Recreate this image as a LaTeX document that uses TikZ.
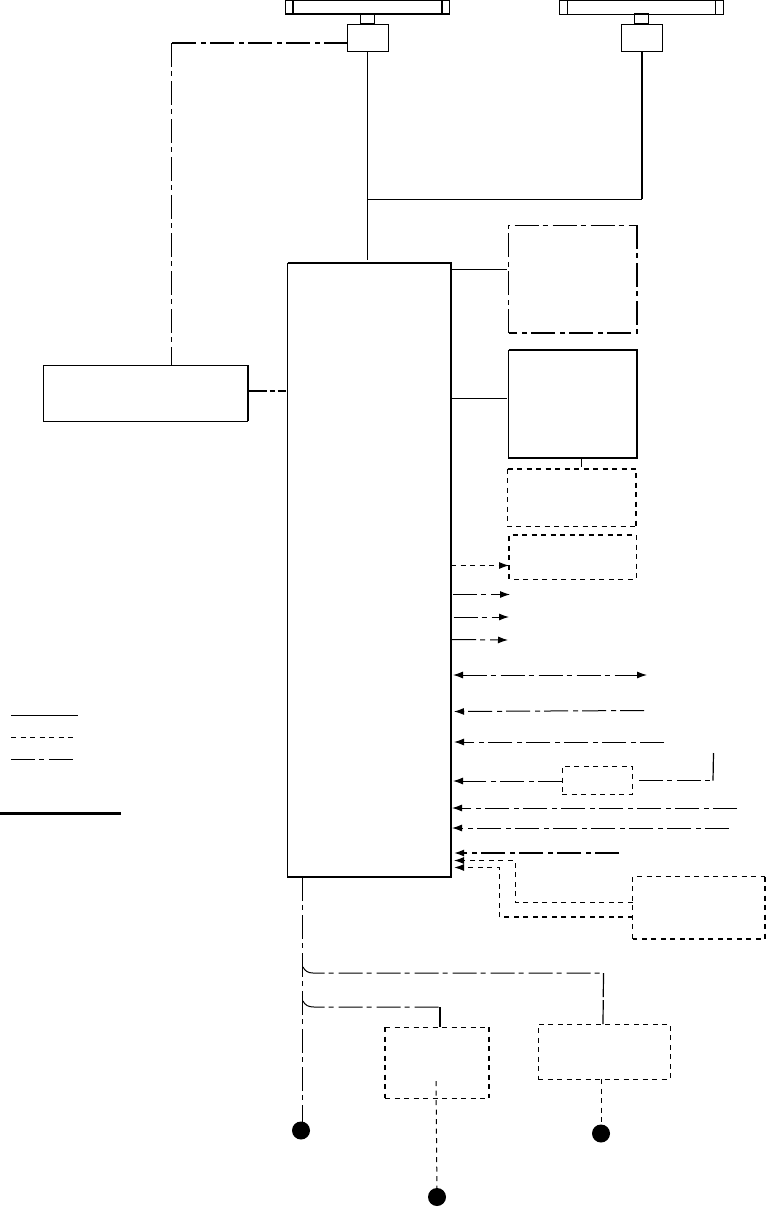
\documentclass[tikz,border=0pt]{standalone}
\usepackage{amsmath}
\usetikzlibrary{arrows.meta}

\tikzset{
    solidbox/.style={draw, line width=1pt, inner sep=0pt, outer sep=0pt, anchor=north west},
    dashbox/.style={draw, line width=1pt, dash pattern=on 5pt off 4.5pt, inner sep=0pt, outer sep=0pt, anchor=north west},
    openbox/.style={inner sep=0pt, outer sep=0pt, anchor=north west},
    dashline/.style={line width=1pt, dash pattern=on 5pt off 4.5pt},
    chainline/.style={line width=1pt, dash pattern=on 24pt off 4pt on 5pt off 5pt},
    heavy/.style={line width=2pt},
    tip/.style={-{Latex[length=10pt,width=7pt]}},
    blackdot/.style={circle, fill=black, inner sep=0pt, minimum size=18pt},
}

\begin{document}
\begin{tikzpicture}[x=1pt, y=-1pt]
    \useasboundingbox (0, 0) rectangle (766, 1207);

    % two aerials on top
    \node[solidbox, minimum width=164pt, minimum height=14pt] (barA) at (285.5, 0.5) {};
    \node[solidbox, minimum width=164pt, minimum height=14pt] (barB) at (559.5, 0.5) {};
    \draw[line width=1.5pt] (293, 0.5) -- (293, 14);
    \draw[line width=1.5pt] (442, 0.5) -- (442, 14);
    \draw[heavy] (barA.south west) -- (barA.south east);
    \draw (567.5, 0.5) -- (567.5, 14);
    \draw (715.5, 0.5) -- (715.5, 14);
    \node[solidbox, minimum width=14pt, minimum height=10pt] (stubA) at (360.5, 14) {};
    \node[solidbox, minimum width=14pt, minimum height=10pt] (stubB) at (634.5, 14) {};
    \node[solidbox, minimum width=41pt, minimum height=27pt] (unitA) at (347.5, 24.5) {};
    \node[solidbox, minimum width=41pt, minimum height=27pt] (unitB) at (621.5, 24.5) {};

    % main blocks
    \node[solidbox, minimum width=163.5pt, minimum height=614pt] (main) at (287.5, 263) {};
    \node[solidbox, minimum width=204pt, minimum height=56pt] (leftbox) at (43.5, 365) {};
    \node[openbox, minimum width=128.5pt, minimum height=108pt] (boxA) at (508.5, 225) {};
    \node[solidbox, minimum width=128.5pt, minimum height=108pt] (boxB) at (508.5, 350) {};
    \node[openbox, minimum width=128.5pt, minimum height=58pt] (boxC) at (507.5, 468.5) {};
    \node[openbox, minimum width=127pt, minimum height=44pt] (boxD) at (509, 535) {};
    \node[dashbox, minimum width=70.5pt, minimum height=28pt] (boxE) at (562, 766) {};
    \node[openbox, minimum width=132.5pt, minimum height=62pt] (boxF) at (632.5, 876.5) {};
    \node[openbox, minimum width=104pt, minimum height=71pt] (boxG) at (385, 1027) {};
    \node[dashbox, minimum width=132pt, minimum height=55pt] (boxH) at (538, 1024) {};

    % sides of the blocks, thin and heavy
    \draw[heavy] (main.north west) -- (main.north east) -- (main.south east) -- (main.south west);
    \draw[heavy] (leftbox.north east) -- (leftbox.south east);
    \draw[heavy] (boxB.north west) -- (boxB.north east) -- (boxB.south east) -- (boxB.south west);
    \draw[chainline] (boxA.south west) -- (boxA.north west) -- (boxA.north east);
    \draw[chainline, heavy] (boxA.north east) -- (boxA.south east) -- (boxA.south west);
    \draw[dashline] (boxC.north west) -- (boxC.south west) -- (boxC.south east);
    \draw[dashline, heavy] (boxC.north west) -- (boxC.north east) -- (boxC.south east);
    \draw[dashline] (boxD.north east) -- (boxD.south east) -- (boxD.south west);
    \draw[dashline, heavy] (boxD.south west) -- (boxD.north west) -- (boxD.north east);
    \draw[dashline] (boxF.south west) -- (boxF.north west) -- (boxF.north east);
    \draw[dashline, heavy] (boxF.north east) -- (boxF.south east) -- (boxF.south west);
    \draw[dashline] (boxG.north west) -- (boxG.north east);
    \draw[dashline] (boxG.south west) -- (boxG.south east);
    \draw[dashline, heavy] (boxG.north west) -- (boxG.south west);
    \draw[dashline, heavy] (boxG.north east) -- (boxG.south east);

    % end dots
    \node[blackdot] (dotA) at (301, 1130.5) {};
    \node[blackdot] (dotB) at (601, 1133.5) {};
    \node[blackdot] (dotC) at (437, 1197) {};

    % free ends
    \coordinate (joint) at (367.5, 199);
    \coordinate (in1) at (510, 594.5);
    \coordinate (in2) at (509, 617);
    \coordinate (in3) at (508, 640);
    \coordinate (out1) at (453, 594.5);
    \coordinate (out2) at (453.5, 617);
    \coordinate (out3) at (452, 639.5);
    \coordinate (both1) at (453, 675);
    \coordinate (both2) at (647, 675);
    \coordinate (far1) at (644, 710.5);
    \coordinate (far2) at (664, 742);
    \coordinate (far3) at (713.5, 753);
    \coordinate (far4) at (737, 808);
    \coordinate (far5) at (729, 828);
    \coordinate (far6) at (619, 853);

    % upper connectors
    \draw[chainline, line width=1.6pt] (unitA.west |- 0, 43) -- (172, 43);
    \draw[chainline] (171.5, 43) -- (171.5, 365);
    \draw (joint |- unitA.south) -- (367.5, 260);
    \draw (joint) -- (642, 199);
    \draw[line width=1.5pt] (642, 199) -- (unitB.south);
    \draw[line width=1.6pt, dash pattern=on 19pt off 3pt on 5pt off 3pt] (leftbox.east |- 0, 391) -- (286, 391);
    \draw (main.east |- 0, 269) -- (507, 269);
    \draw (main.east |- 0, 398) -- (507, 398);
    \draw (581, 458) -- (581, 467);

    % right hand arrows
    \draw[dashline, tip] (main.east |- 0, 565.5) -- (boxD.west |- 0, 565.5);
    \draw[chainline, tip] (out1) -- (in1);
    \draw[chainline, tip] (out2) -- (in2);
    \draw[chainline, tip] (out3) -- (in3);
    \draw[chainline, {Latex[length=10pt,width=7pt]}-{Latex[length=10pt,width=7pt]}] (both1) -- (both2);
    \draw[chainline, tip] (far1) -- (454, 711.5);
    \draw[chainline, tip] (far2) -- (454, 742);
    \draw[chainline, tip] (boxE.west |- 0, 781) -- (453, 781);
    \draw[chainline] (639, 780.5) -- (713, 780.5);
    \draw[line width=1.2pt] (713, 780.5) -- (far3);
    \draw[chainline, tip] (far4) -- (452, 808);
    \draw[chainline, tip] (far5) -- (452, 828);
    \draw[chainline, line width=1.6pt, tip] (far6) -- (454, 853);
    \draw[dashline, tip] (boxF.west |- 0, 902) -- (515, 902) -- (515, 860.5) -- (454, 860.5);
    \draw[dashline, line width=1.4pt, tip] (boxF.west |- 0, 917) -- (499.5, 917) -- (499.5, 867.5) -- (454, 867.5);

    % lower connectors
    \draw[chainline] (302.5, 877) -- (302.5, 1122);
    \draw[chainline] (303, 967) .. controls (305, 971) and (308, 973) .. (313, 973) -- (603.5, 973);
    \draw[line width=1.2pt, dash pattern=on 24pt off 3pt] (603.5, 973) -- (603, 1024);
    \draw[chainline] (303, 1001) .. controls (305, 1005) and (308, 1007) .. (314, 1007) -- (440, 1007);
    \draw[line width=1.3pt] (440, 1007) -- (440, 1027);
    \draw[dashline] (dotB |- boxH.south) -- (dotB);
    \draw[dashline] (436, 1081) -- (dotC);

    % legend
    \draw (11, 715) -- (78, 715);
    \draw[dashline] (11, 737) -- (74, 737);
    \draw[chainline] (11, 759) -- (74, 759);
    \draw[line width=3pt] (0, 813) -- (121, 813);
\end{tikzpicture}
\end{document}
